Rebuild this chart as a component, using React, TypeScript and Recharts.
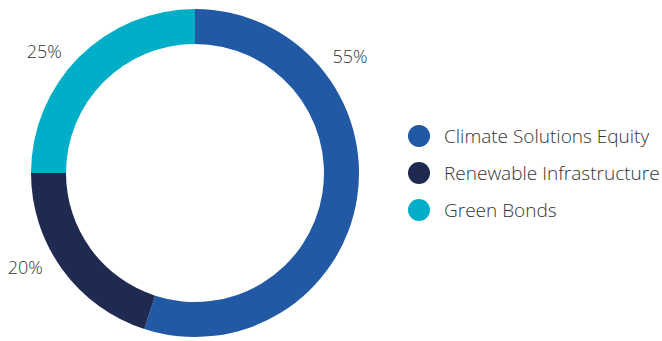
import React from 'react';
import { PieChart, Pie, Cell, Legend } from 'recharts';

const categories = ['Climate Solutions Equity', 'Renewable Infrastructure', 'Green Bonds'];
const shares = [55, 20, 25];
const colors = ['#2159A5', '#1F2A50', '#00AEC7'];

// where each percentage sits around the ring (degrees, counter-clockwise from 3 o'clock)
const labelAngles = [37, 209, 141];

const data = categories.map((name, i) => ({ name, value: shares[i] }));

const FONT = '"Open Sans", sans-serif';
const RAD = Math.PI / 180;

const renderLabel = (props: any) => {
  const { cx, cy, outerRadius, index, value } = props;
  const r = outerRadius + 30;
  const a = labelAngles[index] * RAD;
  const x = cx + r * Math.cos(a);
  const y = cy - r * Math.sin(a);
  return (
    <text
      x={x}
      y={y}
      textAnchor="middle"
      dominantBaseline="central"
      fill="#333"
      fontSize={18}
      fontWeight={300}
      fontFamily={FONT}
    >
      {value}%
    </text>
  );
};

const renderLegend = () => (
  <div style={{ fontFamily: FONT }}>
    {categories.map((c, i) => (
      <div key={c} style={{ display: 'flex', alignItems: 'center', height: 37 }}>
        <span
          style={{
            width: 22,
            height: 22,
            borderRadius: '50%',
            background: colors[i],
            display: 'inline-block',
            marginRight: 14,
          }}
        />
        <span style={{ fontSize: 19, fontWeight: 300, color: '#333', whiteSpace: 'nowrap' }}>{c}</span>
      </div>
    ))}
  </div>
);

export default function App() {
  return (
    <div style={{ position: 'absolute', left: 0, top: 0, background: '#fff' }}>
      <PieChart width={662} height={341} margin={{ top: 0, right: 0, bottom: 0, left: 0 }}>
        <Pie
          data={data}
          dataKey="value"
          nameKey="name"
          cx={195}
          cy={173}
          innerRadius={129}
          outerRadius={164}
          startAngle={90}
          endAngle={-270}
          stroke="none"
          label={renderLabel}
          labelLine={false}
          isAnimationActive={false}
        >
          {data.map((d, i) => (
            <Cell key={d.name} fill={colors[i]} />
          ))}
        </Pie>
        <Legend
          layout="vertical"
          align="right"
          verticalAlign="middle"
          content={renderLegend}
          wrapperStyle={{ left: 408, top: 117, right: 'auto', width: 254 }}
        />
      </PieChart>
    </div>
  );
}
